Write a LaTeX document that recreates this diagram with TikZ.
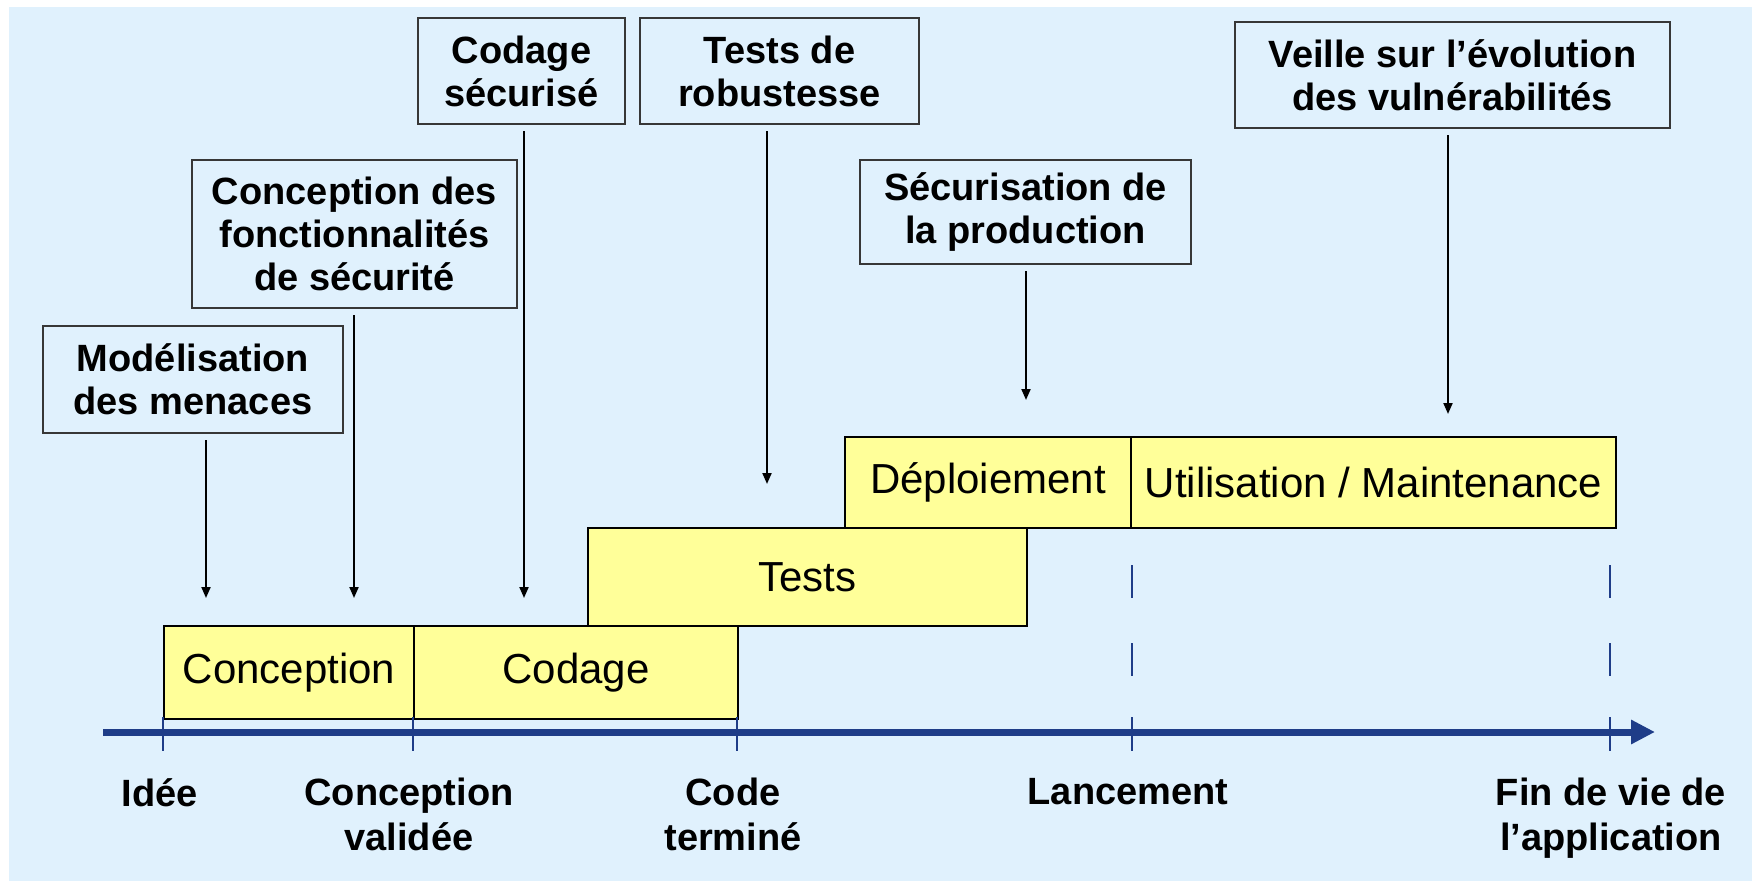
\documentclass[tikz,border=0pt]{standalone}
\usepackage{fontspec}
\setmainfont{Liberation Sans}
\usetikzlibrary{arrows.meta}
\definecolor{bgblue}{RGB}{224,241,253}
\definecolor{phaseyellow}{RGB}{255,255,153}
\definecolor{navy}{RGB}{31,61,136}
\definecolor{boxgray}{RGB}{55,55,55}
\tikzset{
  topbox/.style={draw=boxgray, line width=2pt, fill=bgblue, align=center,
    font=\bfseries\fontsize{38}{43}\selectfont, inner sep=0pt},
  phase/.style={draw=black, line width=2pt, fill=phaseyellow,
    font=\fontsize{42}{48}\selectfont, inner sep=0pt},
  milestone/.style={font=\bfseries\fontsize{38}{45}\selectfont, align=center,
    inner sep=0pt, anchor=north},
  pointer/.style={line width=2pt, draw=black, shorten <=6pt,
    -{Triangle[length=11pt,width=9pt]}},
  axisline/.style={line width=7pt, draw=navy, -{Triangle[length=24pt,width=23pt]}},
  tickmark/.style={line width=2.5pt, draw=navy},
}
\begin{document}
\begin{tikzpicture}[x=1pt,y=-1pt]
\useasboundingbox (0,0) rectangle (1758,883);
\fill[white] (0,0) rectangle (1758,883);
\fill[bgblue] (9,7) rectangle (1752,881);

% top boxes
\node[topbox, minimum width=207, minimum height=106] (codsec) at (521.5,71) {Codage\\sécurisé};
\node[topbox, minimum width=279, minimum height=106] (robust) at (779.5,71) {Tests de\\robustesse};
\node[topbox, minimum width=435, minimum height=106] (veille) at (1452.5,75) {Veille sur l’évolution\\des vulnérabilités};
\node[topbox, minimum width=325, minimum height=148] (fonct) at (354.5,234) {Conception des\\fonctionnalités\\de sécurité};
\node[topbox, minimum width=300, minimum height=107] (menaces) at (193,379.5) {Modélisation\\des menaces};
\node[topbox, minimum width=331, minimum height=104] (secprod) at (1025.5,212) {Sécurisation de\\la production};

% phases
\node[phase, minimum width=250, minimum height=93] (concep) at (289,672.5) {Conception};
\node[phase, minimum width=324, minimum height=93] (codage) at (576,672.5) {Codage};
\node[phase, minimum width=439, minimum height=98] (tests) at (807.5,577) {Tests};
\node[phase, minimum width=286, minimum height=91] (deploi) at (988,482.5) {Déploiement};
\node[phase, minimum width=485, minimum height=91] (util) at (1373.5,482.5) {Utilisation / Maintenance};

% arrow tips
\coordinate (tA) at (524,598);
\coordinate (tB) at (767,484);
\coordinate (tC) at (1448,414);
\coordinate (tD) at (354,598);
\coordinate (tE) at (206,598);
\coordinate (tF) at (1026,400);
\draw[pointer] (codsec.south -| tA) -- (tA);
\draw[pointer] (robust.south -| tB) -- (tB);
\draw[pointer] (veille.south -| tC) -- (tC);
\draw[pointer] (fonct.south -| tD) -- (tD);
\draw[pointer] (menaces.south -| tE) -- (tE);
\draw[pointer] (secprod.south -| tF) -- (tF);

% dashed guides
\coordinate (dl1) at (1132,565);
\coordinate (dl2) at (1132,680);
\coordinate (df1) at (1610,565);
\coordinate (df2) at (1610,680);
\draw[tickmark, dash pattern=on 33pt off 45pt] (dl1) -- (dl2);
\draw[tickmark, dash pattern=on 33pt off 45pt] (df1) -- (df2);

% axis
\coordinate (axstart) at (103,732);
\coordinate (axend) at (1655,732);
\draw[axisline] (axstart) -- (axend);

% ticks
\coordinate (m1) at (163,732);
\coordinate (m2) at (413,732);
\coordinate (m3) at (737,732);
\coordinate (m4) at (1132,732);
\coordinate (m5) at (1610,732);
\foreach \m in {m1,m2,m3,m4,m5}
  \draw[tickmark] ([yshift=15pt]\m) -- ([yshift=-19pt]\m);

% milestone labels
\node[milestone] (lidee) at (160,778) {Idée};
\node[milestone] (lconc) at (409,778) {Conception\\validée};
\node[milestone] (lcode) at (733,778) {Code\\terminé};
\node[milestone] (llanc) at (1128,778) {Lancement};
\node[milestone] (lfin) at (1611,778) {Fin de vie de\\l’application};
\end{tikzpicture}
\end{document}
